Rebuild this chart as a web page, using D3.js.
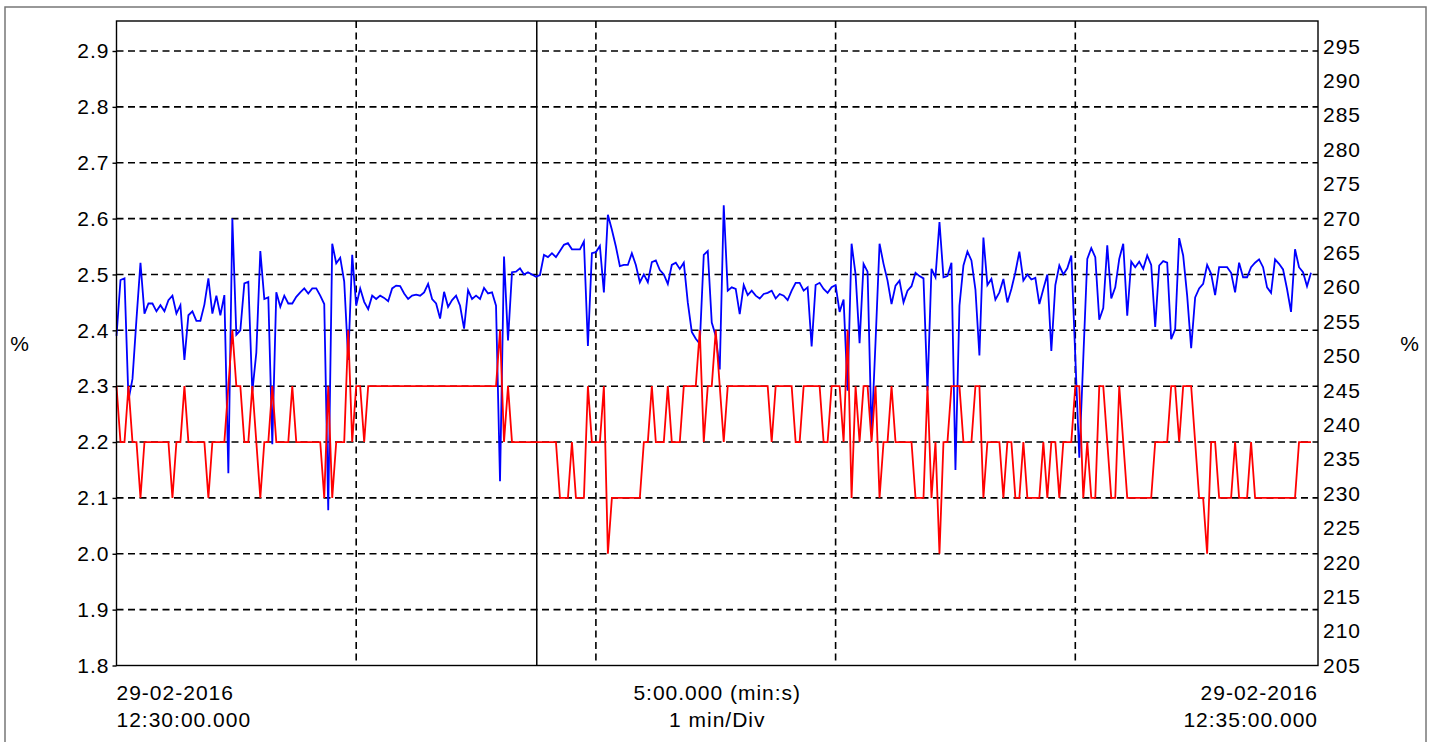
<!DOCTYPE html>
<html>
<head>
<meta charset="utf-8">
<script src="https://cdn.jsdelivr.net/npm/d3@7"></script>
<style>
  body { margin: 0; background: #fff; }
  text { font-family: "Liberation Sans", Arial, Helvetica, sans-serif; fill: #000; letter-spacing: 1px; }
</style>
</head>
<body>
<div id="scope"></div>
<script>
// Scope capture: two traces over 5 minutes, one sample per second

// Blue trace (%), one value per second
var blueValues = [
  2.39, 2.49, 2.493, 2.275, 2.313, 2.42, 2.521, 2.43, 2.448, 2.448,
  2.434, 2.445, 2.434, 2.454, 2.462, 2.43, 2.445, 2.347, 2.427, 2.434,
  2.417, 2.417, 2.446, 2.493, 2.43, 2.462, 2.427, 2.463, 2.144, 2.6,
  2.392, 2.4, 2.484, 2.487, 2.29, 2.36, 2.542, 2.456, 2.459, 2.196,
  2.468, 2.442, 2.462, 2.448, 2.448, 2.46, 2.468, 2.475, 2.466, 2.475,
  2.475, 2.462, 2.447, 2.078, 2.555, 2.52, 2.53, 2.487, 2.347, 2.535,
  2.444, 2.475, 2.451, 2.438, 2.462, 2.456, 2.462, 2.458, 2.452, 2.475,
  2.48, 2.479, 2.466, 2.456, 2.462, 2.464, 2.462, 2.468, 2.483, 2.456,
  2.448, 2.421, 2.469, 2.442, 2.454, 2.462, 2.444, 2.403, 2.472, 2.456,
  2.462, 2.456, 2.476, 2.466, 2.468, 2.444, 2.13, 2.532, 2.382, 2.504,
  2.505, 2.511, 2.5, 2.504, 2.5, 2.496, 2.499, 2.535, 2.531, 2.538,
  2.531, 2.542, 2.553, 2.556, 2.545, 2.545, 2.545, 2.559, 2.372, 2.538,
  2.54, 2.551, 2.468, 2.607, 2.58, 2.55, 2.515, 2.517, 2.517, 2.538,
  2.517, 2.486, 2.5, 2.486, 2.522, 2.525, 2.508, 2.5, 2.483, 2.517,
  2.521, 2.51, 2.521, 2.45, 2.397, 2.385, 2.376, 2.535, 2.542, 2.414,
  2.39, 2.33, 2.624, 2.471, 2.477, 2.474, 2.429, 2.481, 2.463, 2.471,
  2.462, 2.457, 2.465, 2.467, 2.471, 2.457, 2.465, 2.462, 2.454, 2.471,
  2.485, 2.485, 2.471, 2.477, 2.371, 2.481, 2.485, 2.474, 2.467, 2.477,
  2.481, 2.433, 2.455, 2.292, 2.555, 2.5, 2.377, 2.519, 2.505, 2.214,
  2.38, 2.555, 2.519, 2.489, 2.447, 2.48, 2.489, 2.45, 2.471, 2.479,
  2.503, 2.497, 2.493, 2.292, 2.51, 2.495, 2.594, 2.495, 2.497, 2.521,
  2.15, 2.444, 2.516, 2.541, 2.525, 2.473, 2.355, 2.566, 2.481, 2.492,
  2.455, 2.468, 2.492, 2.45, 2.474, 2.504, 2.541, 2.489, 2.5, 2.491,
  2.494, 2.447, 2.474, 2.5, 2.363, 2.481, 2.516, 2.5, 2.511, 2.534,
  2.353, 2.172, 2.35, 2.528, 2.547, 2.531, 2.419, 2.44, 2.552, 2.457,
  2.477, 2.528, 2.555, 2.426, 2.523, 2.513, 2.523, 2.51, 2.534, 2.517,
  2.406, 2.516, 2.524, 2.521, 2.384, 2.402, 2.565, 2.534, 2.462, 2.368,
  2.459, 2.475, 2.483, 2.517, 2.501, 2.463, 2.513, 2.513, 2.513, 2.503,
  2.468, 2.521, 2.495, 2.495, 2.513, 2.521, 2.527, 2.513, 2.477, 2.467,
  2.527, 2.519, 2.509, 2.474, 2.433, 2.545, 2.513, 2.504, 2.479, 2.503
];

// Red trace (%), one value per second
var redValues = [
  2.3, 2.2, 2.2, 2.3, 2.2, 2.2, 2.1, 2.2, 2.2, 2.2,
  2.2, 2.2, 2.2, 2.2, 2.1, 2.2, 2.2, 2.3, 2.2, 2.2,
  2.2, 2.2, 2.2, 2.1, 2.2, 2.2, 2.2, 2.2, 2.3, 2.4,
  2.3, 2.3, 2.2, 2.2, 2.3, 2.2, 2.1, 2.2, 2.2, 2.3,
  2.2, 2.2, 2.2, 2.2, 2.3, 2.2, 2.2, 2.2, 2.2, 2.2,
  2.2, 2.2, 2.1, 2.3, 2.1, 2.2, 2.2, 2.2, 2.4, 2.2,
  2.3, 2.3, 2.2, 2.3, 2.3, 2.3, 2.3, 2.3, 2.3, 2.3,
  2.3, 2.3, 2.3, 2.3, 2.3, 2.3, 2.3, 2.3, 2.3, 2.3,
  2.3, 2.3, 2.3, 2.3, 2.3, 2.3, 2.3, 2.3, 2.3, 2.3,
  2.3, 2.3, 2.3, 2.3, 2.3, 2.3, 2.4, 2.2, 2.3, 2.2,
  2.2, 2.2, 2.2, 2.2, 2.2, 2.2, 2.2, 2.2, 2.2, 2.2,
  2.2, 2.1, 2.1, 2.1, 2.2, 2.1, 2.1, 2.1, 2.3, 2.2,
  2.2, 2.2, 2.3, 2.0, 2.1, 2.1, 2.1, 2.1, 2.1, 2.1,
  2.1, 2.1, 2.2, 2.2, 2.3, 2.2, 2.2, 2.2, 2.3, 2.2,
  2.2, 2.2, 2.3, 2.3, 2.3, 2.3, 2.4, 2.2, 2.3, 2.3,
  2.4, 2.3, 2.2, 2.3, 2.3, 2.3, 2.3, 2.3, 2.3, 2.3,
  2.3, 2.3, 2.3, 2.3, 2.2, 2.3, 2.3, 2.3, 2.3, 2.3,
  2.2, 2.2, 2.3, 2.3, 2.3, 2.3, 2.3, 2.2, 2.2, 2.3,
  2.3, 2.3, 2.2, 2.4, 2.1, 2.3, 2.2, 2.3, 2.3, 2.2,
  2.3, 2.1, 2.2, 2.2, 2.3, 2.2, 2.2, 2.2, 2.2, 2.2,
  2.1, 2.1, 2.1, 2.3, 2.1, 2.2, 2.0, 2.2, 2.2, 2.3,
  2.3, 2.3, 2.2, 2.2, 2.2, 2.3, 2.3, 2.1, 2.2, 2.2,
  2.2, 2.2, 2.1, 2.2, 2.2, 2.1, 2.1, 2.2, 2.1, 2.1,
  2.1, 2.1, 2.2, 2.1, 2.2, 2.2, 2.1, 2.2, 2.2, 2.2,
  2.3, 2.3, 2.1, 2.2, 2.1, 2.1, 2.3, 2.3, 2.2, 2.1,
  2.1, 2.3, 2.2, 2.1, 2.1, 2.1, 2.1, 2.1, 2.1, 2.1,
  2.2, 2.2, 2.2, 2.2, 2.3, 2.3, 2.2, 2.3, 2.3, 2.3,
  2.2, 2.1, 2.1, 2.0, 2.2, 2.2, 2.1, 2.1, 2.1, 2.1,
  2.2, 2.1, 2.1, 2.1, 2.2, 2.1, 2.1, 2.1, 2.1, 2.1,
  2.1, 2.1, 2.1, 2.1, 2.1, 2.1, 2.2, 2.2, 2.2, 2.2
];

// Axis ticks
var leftTicks = [1.8, 1.9, 2.0, 2.1, 2.2, 2.3, 2.4, 2.5, 2.6, 2.7, 2.8, 2.9];
var rightTicks = [205, 210, 215, 220, 225, 230, 235, 240, 245, 250,
                  255, 260, 265, 270, 275, 280, 285, 290, 295];
var gridSeconds = [60, 120, 180, 240];   // 1 min/Div
var cursorSecond = 105.2;                // solid cursor line

// Bottom labels
var startLabel = ["29-02-2016", "12:30:00.000"];
var middleLabel = ["5:00.000 (min:s)", "1 min/Div"];
var endLabel = ["29-02-2016", "12:35:00.000"];

// SVG parameter setup
var svgWidth = 1433;
var svgHeight = 742;
var margin = { top: 21, right: 115, bottom: 76.5, left: 116.5 };
var width = svgWidth - margin.left - margin.right;
var height = svgHeight - margin.top - margin.bottom;

var svg = d3.select("#scope").append("svg")
    .attr("width", svgWidth)
    .attr("height", svgHeight);

// Outer grey frame
svg.append("rect")
    .attr("x", 5).attr("y", 7)
    .attr("width", 1421).attr("height", 760)
    .attr("fill", "none")
    .attr("stroke", "#777")
    .attr("stroke-width", 1.5);

var chartGroup = svg.append("g")
    .attr("transform", `translate(${margin.left}, ${margin.top})`);

// Scales
var xScale = d3.scaleLinear().domain([0, 300.75]).range([0, width]);
var yLeft = d3.scaleLinear().domain([1.8, 2.9537]).range([height, 0]);
var yRight = d3.scaleLinear().domain([205, 298.7]).range([height, 0]);

// Dashed grid
chartGroup.selectAll(".hgrid")
    .data(leftTicks.filter(d => d > 1.8))
    .enter().append("line")
    .attr("class", "hgrid")
    .attr("x1", 0).attr("x2", width)
    .attr("y1", d => yLeft(d)).attr("y2", d => yLeft(d))
    .attr("stroke", "#000").attr("stroke-width", 1.6)
    .attr("stroke-dasharray", "7,4.5");

chartGroup.selectAll(".vgrid")
    .data(gridSeconds)
    .enter().append("line")
    .attr("class", "vgrid")
    .attr("x1", d => xScale(d)).attr("x2", d => xScale(d))
    .attr("y1", 0).attr("y2", height)
    .attr("stroke", "#000").attr("stroke-width", 1.6)
    .attr("stroke-dasharray", "7,4.5");

// Cursor
chartGroup.append("line")
    .attr("x1", xScale(cursorSecond)).attr("x2", xScale(cursorSecond))
    .attr("y1", 0).attr("y2", height)
    .attr("stroke", "#000").attr("stroke-width", 1.5);

// Traces
var line = d3.line()
    .x((d, i) => xScale(i))
    .y(d => yLeft(d));

chartGroup.append("path")
    .datum(blueValues)
    .attr("d", line)
    .attr("fill", "none")
    .attr("stroke", "#0000ff")
    .attr("stroke-width", 1.8);

chartGroup.append("path")
    .datum(redValues)
    .attr("d", line)
    .attr("fill", "none")
    .attr("stroke", "#ff0000")
    .attr("stroke-width", 1.8);

// Plot frame
chartGroup.append("rect")
    .attr("width", width).attr("height", height)
    .attr("fill", "none")
    .attr("stroke", "#000")
    .attr("stroke-width", 1.4);

// Left axis
var leftAxis = chartGroup.append("g")
    .call(d3.axisLeft(yLeft).tickValues(leftTicks).tickSize(4).tickPadding(3)
        .tickFormat(d3.format(".1f")));
leftAxis.select(".domain").remove();

// Right axis
var rightAxis = chartGroup.append("g")
    .attr("transform", `translate(${width}, 0)`)
    .call(d3.axisRight(yRight).tickValues(rightTicks).tickSize(0).tickPadding(5));
rightAxis.select(".domain").remove();

chartGroup.selectAll(".tick text")
    .style("font-size", "21px")
    .style("font-family", "'Liberation Sans', Arial, sans-serif")
    .attr("fill", "#000");
chartGroup.selectAll(".tick line").attr("stroke", "#000").attr("stroke-width", 1.4);

// Unit labels
svg.append("text").attr("x", 20).attr("y", 351)
    .attr("text-anchor", "middle").style("font-size", "21px").text("%");
svg.append("text").attr("x", 1410).attr("y", 351)
    .attr("text-anchor", "middle").style("font-size", "21px").text("%");

// Bottom time labels
var labelRows = [700, 726.5];
function bottomLabel(lines, x, anchor) {
    lines.forEach(function(t, i) {
        svg.append("text")
            .attr("x", x).attr("y", labelRows[i])
            .attr("text-anchor", anchor)
            .style("font-size", "21px")
            .text(t);
    });
}
bottomLabel(startLabel, margin.left, "start");
bottomLabel(middleLabel, margin.left + width / 2, "middle");
bottomLabel(endLabel, margin.left + width, "end");
</script>
</body>
</html>
